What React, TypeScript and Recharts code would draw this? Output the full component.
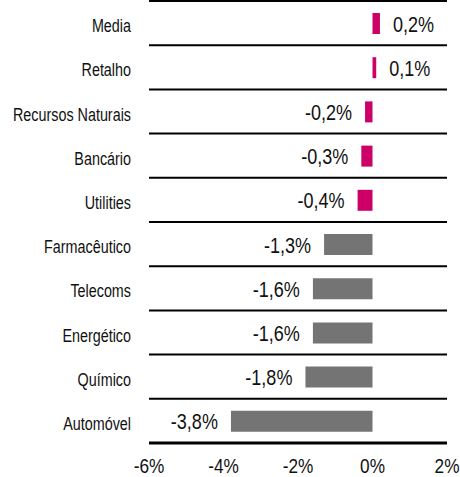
import React from 'react';
import { BarChart, Bar, XAxis, YAxis, CartesianGrid, Cell, LabelList } from 'recharts';

const categories = ['Media', 'Retalho', 'Recursos Naturais', 'Bancário', 'Utilities', 'Farmacêutico', 'Telecoms', 'Energético', 'Químico', 'Automóvel'];
const values = [0.2, 0.1, -0.2, -0.3, -0.4, -1.3, -1.6, -1.6, -1.8, -3.8];
const highlighted = [true, true, true, true, true, false, false, false, false, false];
const xTicks = [-6, -4, -2, 0, 2];

const data = categories.map((name, i) => ({ name, value: values[i], hl: highlighted[i] }));

const PINK = '#CC0066';
const GRAY = '#747474';
const FONT = '"Liberation Sans", Arial, sans-serif';
const NARROW = 0.82;

const fmt = (v: number) => `${v.toFixed(1).replace('.', ',')}%`;

const NarrowText = ({ x, y, anchor, size, children }: any) => (
  <g transform={`translate(${x},${y}) scale(${NARROW},1)`}>
    <text x={0} y={0} textAnchor={anchor} fontSize={size} fontFamily={FONT} fill="#111">
      {children}
    </text>
  </g>
);

const ValueLabel = (props: any) => {
  const { x, y, width, height, value } = props;
  const left = Math.min(x, x + width);
  const right = Math.max(x, x + width);
  const pos = value >= 0;
  return (
    <NarrowText x={pos ? right + 13 : left - 13} y={y + height / 2 + 8} anchor={pos ? 'start' : 'end'} size={22}>
      {fmt(value)}
    </NarrowText>
  );
};

const CategoryTick = (props: any) => {
  const { x, y, payload } = props;
  return (
    <NarrowText x={x} y={y + 9} anchor="end" size={17.5}>
      {payload.value}
    </NarrowText>
  );
};

const ValueTick = (props: any) => {
  const { x, y, payload } = props;
  return (
    <NarrowText x={x} y={y + 30} anchor="middle" size={21}>
      {`${payload.value}%`}
    </NarrowText>
  );
};

const gridGen = ({ offset }: any) => {
  const n = categories.length;
  const out: number[] = [];
  for (let i = 0; i < n; i++) out.push(offset.top + (i * offset.height) / n);
  return out;
};

export default function App() {
  return (
    <div style={{ position: 'absolute', left: 0, top: 0, width: 460, height: 477, background: '#fff' }}>
      <BarChart
        width={460}
        height={477}
        data={data}
        layout="vertical"
        margin={{ top: 1, right: 13, bottom: 0, left: 0 }}
        barCategoryGap={0}
      >
        <CartesianGrid
          vertical={false}
          stroke="#000"
          strokeWidth={2}
          horizontalCoordinatesGenerator={gridGen}
        />
        <XAxis
          type="number"
          domain={[-6, 2]}
          ticks={xTicks}
          axisLine={{ stroke: '#000', strokeWidth: 3 }}
          tickLine={false}
          tickSize={0}
          tickMargin={0}
          height={34}
          interval={0}
          tick={<ValueTick />}
        />
        <YAxis
          type="category"
          dataKey="name"
          width={149}
          axisLine={false}
          tickLine={false}
          tickSize={0}
          tickMargin={18}
          interval={0}
          tick={<CategoryTick />}
        />
        <Bar dataKey="value" barSize={21} isAnimationActive={false}>
          {data.map((d, i) => (
            <Cell key={i} fill={d.hl ? PINK : GRAY} />
          ))}
          <LabelList dataKey="value" content={ValueLabel} />
        </Bar>
      </BarChart>
    </div>
  );
}
